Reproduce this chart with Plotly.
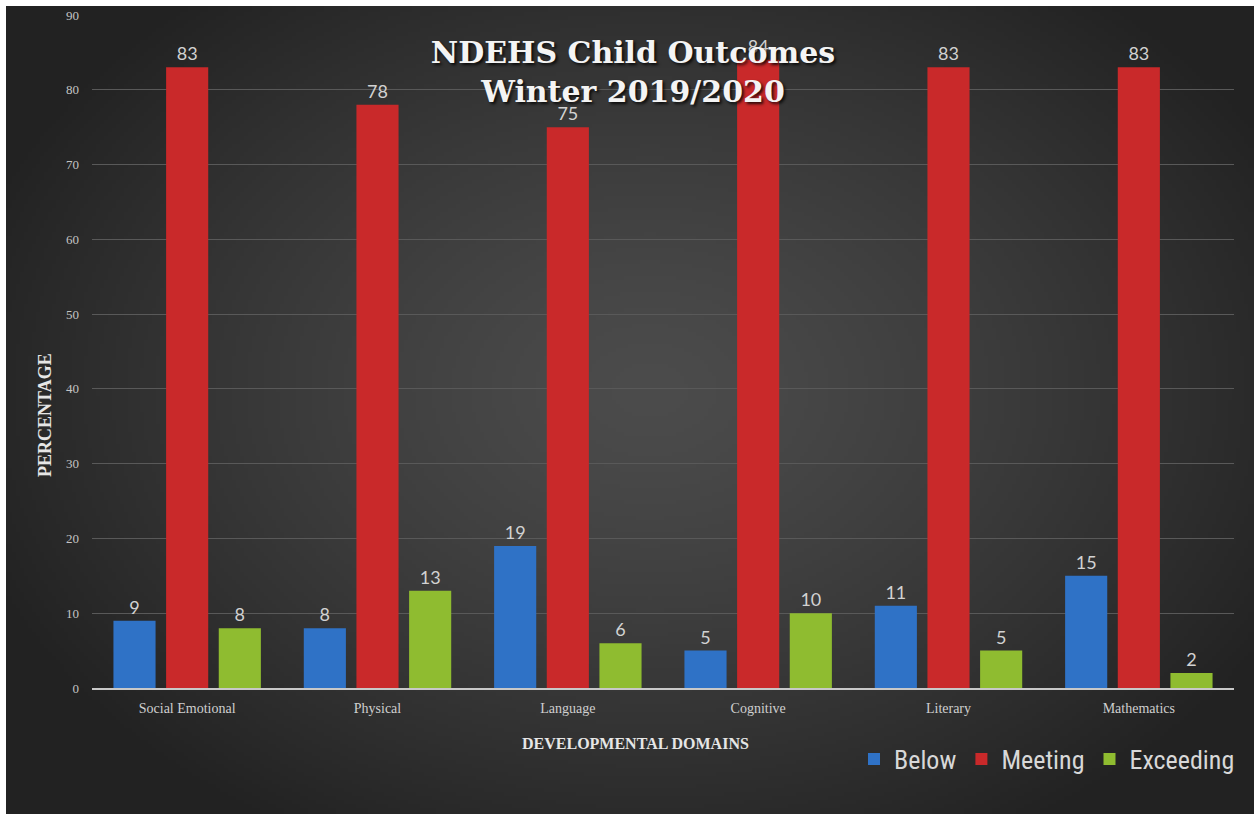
import zlib, struct, base64
import numpy as np
import plotly.graph_objects as go

categories = ["Social Emotional", "Physical", "Language", "Cognitive", "Literary", "Mathematics"]
below = [9, 8, 19, 5, 11, 15]
meeting = [83, 78, 75, 84, 83, 83]
exceeding = [8, 13, 6, 10, 5, 2]
y_ticks = list(range(0, 100, 10))

# ---- radial gradient background as PNG ----
W, H = 312, 202
xs = np.linspace(6, 1254, W)
ys = np.linspace(6, 814, H)
X, Y = np.meshgrid(xs, ys)
d = np.sqrt(((X - 650) / 720.0) ** 2 + ((Y - 390) / 520.0) ** 2)
d = np.clip(d, 0, 1)
v = 76 - (76 - 34) * d ** 1.3
img = np.stack([v, v, v], axis=-1).astype(np.uint8)

def to_png(a):
    h, w, _ = a.shape
    raw = b"".join(b"\x00" + a[i].tobytes() for i in range(h))
    def chunk(t, data):
        c = struct.pack(">I", len(data)) + t + data
        return c + struct.pack(">I", zlib.crc32(t + data) & 0xffffffff)
    return (b"\x89PNG\r\n\x1a\n" + chunk(b"IHDR", struct.pack(">IIBBBBB", w, h, 8, 2, 0, 0, 0))
            + chunk(b"IDAT", zlib.compress(raw, 9)) + chunk(b"IEND", b""))

src = "data:image/png;base64," + base64.b64encode(to_png(img)).decode()

L, R, T, B = 92, 1234, 15, 688
pw, ph = R - L, B - T

fig = go.Figure()
label_font = dict(family="Lato, Noto Sans, sans-serif", size=18, color="#d2d2d2")
for name, vals, col in [("Below", below, "#2f72c6"), ("Meeting", meeting, "#c9292a"), ("Exceeding", exceeding, "#8fbc30")]:
    fig.add_trace(go.Bar(name=name, x=categories, y=vals, marker=dict(color=col, line=dict(width=0)),
                         text=[str(v) for v in vals], textposition="outside", textfont=label_font,
                         cliponaxis=False))

fig.update_layout(
    width=1254, height=814,
    margin=dict(l=L, r=1254 - R, t=T, b=814 - B, autoexpand=False),
    paper_bgcolor="white", plot_bgcolor="rgba(0,0,0,0)",
    barmode="group", bargap=0.17, bargroupgap=0.2,
    images=[dict(source=src, xref="paper", yref="paper",
                 x=(6 - L) / pw, y=(B - 6) / ph, sizex=1248 / pw, sizey=808 / ph,
                 xanchor="left", yanchor="top", sizing="stretch", layer="below")],
    title=dict(text="NDEHS Child Outcomes<br>Winter 2019/2020", x=633 / 1254, xanchor="center",
               y=1 - 63 / 814, yanchor="middle",
               font=dict(family="DejaVu Serif, Liberation Serif, serif", size=30, color="#f4f4f4", weight="bold",
                         shadow="2px 2px 3px rgba(0,0,0,0.8)")),
    showlegend=True,
    legend=dict(orientation="h", x=1240 / 1254, xanchor="right", xref="container",
                y=1 - 759 / 814, yref="container", yanchor="middle",
                font=dict(family="Liberation Sans Narrow, Roboto Condensed, Roboto, sans-serif", size=26, color="#d8d8d8"),
                bgcolor="rgba(0,0,0,0)", itemwidth=30, tracegroupgap=0),
    xaxis=dict(showgrid=False, showline=True, linecolor="#c8c8c8", linewidth=2,
               tickfont=dict(family="Liberation Serif, serif", size=14, color="#cfcfcf"),
               ticks="", ticklabelstandoff=6),
    yaxis=dict(range=[0, 90], tickvals=y_ticks, showgrid=True, gridcolor="#595959", gridwidth=1,
               zeroline=False, showline=False,
               tickfont=dict(family="Liberation Serif, serif", size=13, color="#c4c4c4"),
               ticklabelstandoff=12),
    annotations=[
        dict(text="<b>PERCENTAGE</b>", xref="paper", yref="paper", x=(45 - L) / pw, y=(B - 415) / ph,
             textangle=-90, showarrow=False, xanchor="center", yanchor="middle",
             font=dict(family="Liberation Serif, serif", size=18, color="#e6e6e6")),
        dict(text="<b>DEVELOPMENTAL DOMAINS</b>", xref="paper", yref="paper", x=(635 - L) / pw,
             y=(B - 743) / ph, showarrow=False, xanchor="center", yanchor="middle",
             font=dict(family="Liberation Serif, serif", size=16, color="#e6e6e6")),
    ],
)

fig.write_html("out.html")
